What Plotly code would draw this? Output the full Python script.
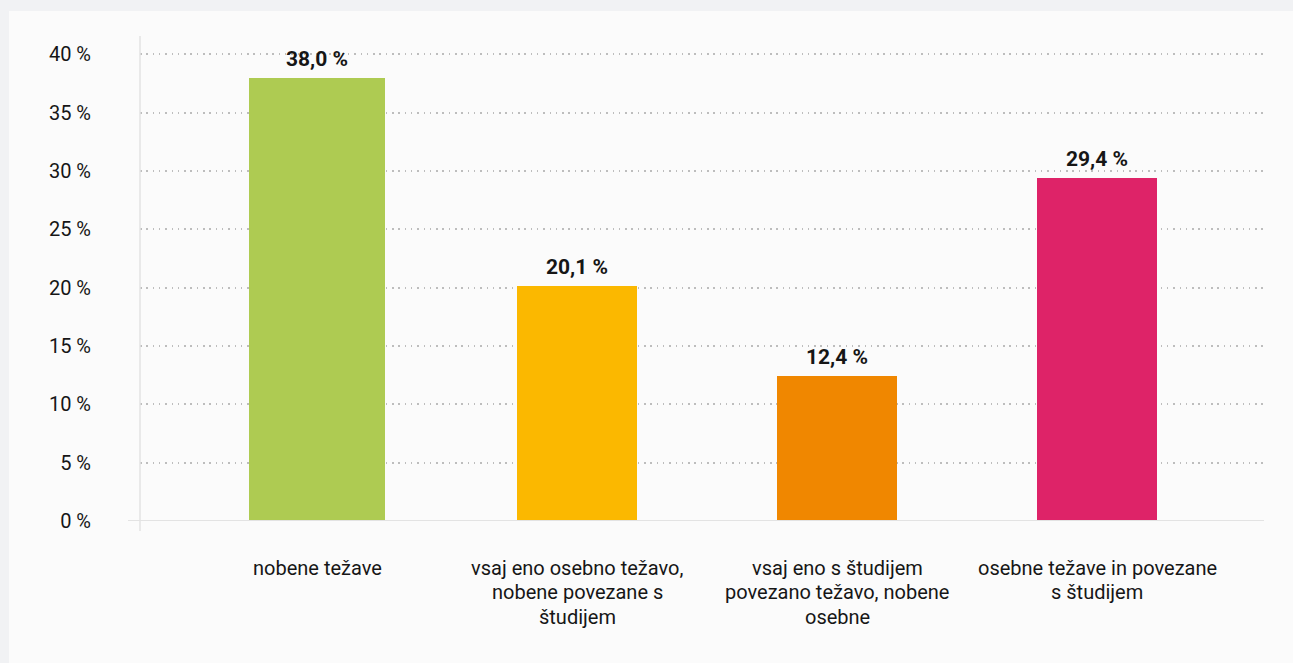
import plotly.graph_objects as go

categories = [
    "nobene težave",
    "vsaj eno osebno težavo,<br>nobene povezane s<br>študijem",
    "vsaj eno s študijem<br>povezano težavo, nobene<br>osebne",
    "osebne težave in povezane<br>s študijem",
]
values = [38.0, 20.1, 12.4, 29.4]
colors = ["#aecb52", "#fbb800", "#f08700", "#de2368"]
bar_widths = [0.523, 0.4615, 0.4615, 0.4615]
y_ticks = [0, 5, 10, 15, 20, 25, 30, 35, 40]

FONT = "Roboto, sans-serif"
TXT = "#161616"

W, H = 1293, 663
ML, MR, MT, MB = 140, 26, 36, 142
pw, ph = W - ML - MR, H - MT - MB
px_per_unit = 11.667
y_top = ph / px_per_unit

xs = list(range(len(categories)))

fig = go.Figure()
fig.add_trace(go.Bar(
    x=xs, y=values, width=bar_widths,
    marker=dict(color=colors, line=dict(width=0)),
    hoverinfo="skip",
))

annotations = []
for x, v in zip(xs, values):
    annotations.append(dict(
        x=x, y=v, xref="x", yref="y", yanchor="bottom", xanchor="center",
        text="<b>" + f"{v:.1f}".replace(".", ",") + " %</b>",
        showarrow=False, yshift=5,
        font=dict(family=FONT, size=21, color=TXT),
    ))

line_gap = 24.5
first_center = 567.5
for x, cat in zip(xs, categories):
    for i, line in enumerate(cat.split("<br>")):
        cy = first_center + i * line_gap
        annotations.append(dict(
            x=x, xref="x", y=1 - (cy - MT) / ph, yref="paper",
            yanchor="middle", xanchor="center", text=line, showarrow=False,
            font=dict(family=FONT, size=20, color=TXT),
        ))

shapes = [
    # white panel
    dict(type="rect", xref="paper", yref="paper",
         x0=(9 - ML) / pw, x1=(W + 5 - ML) / pw,
         y0=1 - (H + 5 - MT) / ph, y1=1 - (11 - MT) / ph,
         fillcolor="#fbfbfb", line=dict(width=0), layer="below"),
    # y axis line
    dict(type="line", xref="paper", yref="paper",
         x0=0, x1=0, y0=1 - (531 - MT) / ph, y1=1,
         line=dict(color="#e3e3e3", width=1.5), layer="above"),
    # zero line
    dict(type="line", xref="paper", yref="y",
         x0=(128 - ML) / pw, x1=(1264 - ML) / pw, y0=0, y1=0,
         line=dict(color="#e3e3e3", width=2), layer="above"),
]

fig.update_layout(
    width=W, height=H,
    margin=dict(l=ML, r=MR, t=MT, b=MB),
    paper_bgcolor="#f1f2f4",
    plot_bgcolor="rgba(0,0,0,0)",
    showlegend=False,
    bargap=0,
    xaxis=dict(
        range=[(140 - 317) / 260, (1267 - 317) / 260],
        showticklabels=False, showgrid=False, zeroline=False,
        showline=False, ticks="", fixedrange=True,
    ),
    yaxis=dict(
        range=[0, y_top],
        tickvals=y_ticks,
        ticktext=[f"{t} %" for t in y_ticks],
        tickfont=dict(family=FONT, size=20, color=TXT),
        showgrid=True, gridcolor="#bdbdbd", griddash="1.5px,4.8px", gridwidth=1.5,
        zeroline=False, showline=False, ticks="",
        ticklabelstandoff=48,
        fixedrange=True,
    ),
    annotations=annotations,
    shapes=shapes,
)

fig.write_html(
    "out.html",
    config={"displayModeBar": False},
    post_script="document.body.style.margin='0';document.body.style.overflow='hidden';document.body.style.background='#f1f2f4';",
)
